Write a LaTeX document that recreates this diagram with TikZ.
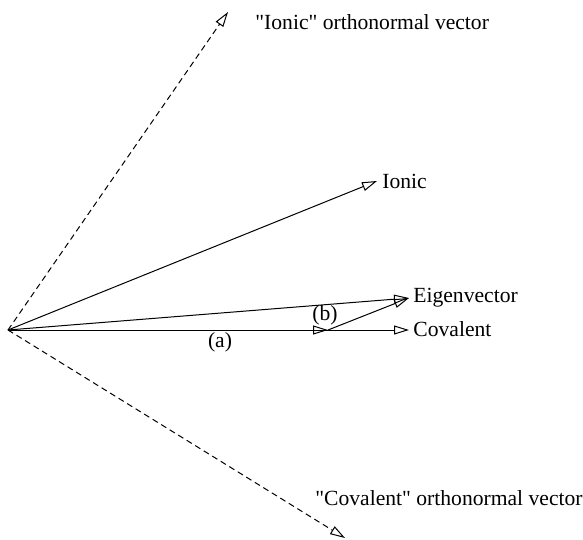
\documentclass[tikz,border=0pt]{standalone}
\usepackage{fontspec}
\setmainfont{Liberation Serif}[Ligatures=TeXOff]
\usetikzlibrary{arrows.meta,positioning}

\begin{document}
\begin{tikzpicture}[
  x=0.5pt,y=-0.5pt,
  every node/.style={font=\fontsize{10.8}{13}\selectfont,inner sep=1pt},
  vec/.style={-{Triangle[open,length=7.5pt,width=4.5pt]},line width=0.5pt},
  ortho/.style={vec,dashed,dash pattern=on 3pt off 2pt}
]
  \useasboundingbox (0,0) rectangle (583,540);

  \coordinate (O) at (8,330);
  \coordinate (ionortho) at (228,12);
  \coordinate (covortho) at (345,538);
  \coordinate (ionic) at (377,181);
  \coordinate (eigen) at (409,298);
  \coordinate (coval) at (409,330);
  \coordinate (proj) at (328,330);

  % Base ortonormal (lineas discontinuas).
  \draw[ortho] (O) -- (ionortho);
  \draw[ortho] (O) -- (covortho);

  \draw[vec] (O) -- (ionic);
  \draw[vec] (O) -- (eigen);
  \draw[vec] (O) -- (coval);
  % Descomposicion del autovector.
  \draw[vec] (O) -- (proj);
  \draw[vec] (proj) -- (eigen);

  \node[anchor=west] (ionlbl) at (380,181) {Ionic};
  \node[anchor=west] (eiglbl) at (411,298) {Eigenvector};
  \node[anchor=west] (covlbl) at (411,329) {Covalent};
  \node (alabel) at (220,342) {(a)};
  \node (blabel) at (325,315) {(b)};
  \node[anchor=west] (ionortholbl) at (253,22) {"Ionic" orthonormal vector};
  \node[anchor=west] (covortholbl) at (313,498) {"Covalent" orthonormal vector};
\end{tikzpicture}
\end{document}
